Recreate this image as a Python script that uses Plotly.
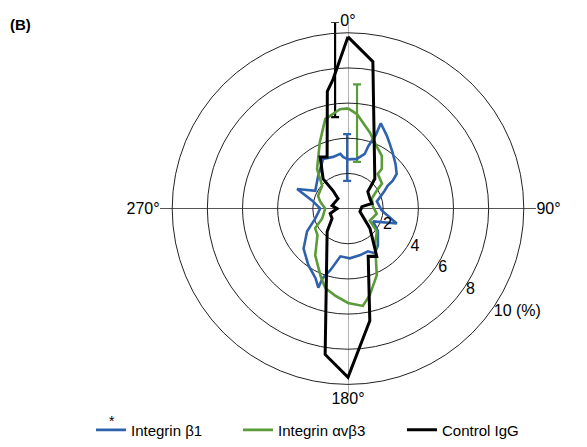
import plotly.graph_objects as go

# ---------------- data ----------------
# Integrin beta1 (blue): angle (deg, clockwise from 0 at top), value (%)
b1_theta = [0, 10, 17, 18, 20.7, 21, 28, 33, 38, 47, 54.5, 58, 60, 64, 76, 93, 107, 117,
            127, 141, 149, 155, 166, 178, 189, 196, 200, 200.6, 205, 215, 228, 241, 253,
            270, 282.5, 291, 298.6, 317.7, 333.4, 344, 352, 354.5, 360]
b1_r = [2.8, 2.87, 3.25, 3.73, 4.47, 5.2, 4.7, 4.37, 4.1, 3.7, 3.4, 3.0, 2.6, 2.32, 1.69, 1.92, 2.9, 1.6,
        2.13, 2.7, 2.96, 2.68, 2.74, 2.83, 2.75, 3.65, 4.2, 4.8, 4.37, 3.93, 3.4, 2.66, 1.95,
        1.58, 2.08, 3.1, 2.12, 2.52, 3.16, 3.06, 3.14, 2.95, 2.8]

# Integrin alpha-v beta3 (green)
avb3_theta = [0, 5.4, 16, 24.7, 32.7, 40.4, 40.6, 53.7, 58, 67, 85, 100, 119, 128, 142, 156.6,
              165.8, 171.3, 180, 188.4, 196, 202, 215, 229, 239, 249, 270, 284, 293, 311.5,
              322, 337, 345.7, 355.4, 360]
avb3_r = [5.7, 5.4, 4.5, 3.9, 3.56, 2.97, 2.6, 2.4, 1.93, 1.47, 1.42, 1.66, 1.42, 2.09, 2.5, 4.12,
          5.07, 5.6, 5.37, 5.0, 4.7, 4.15, 3.25, 2.3, 2.18, 1.57, 1.3, 1.63, 1.85, 1.96,
          2.86, 4.1, 5.25, 5.67, 5.7]

# Control IgG (black)
igg_theta = [0, 9.6, 42, 49.6, 65.6, 78, 82, 104, 132, 146, 149, 157, 169, 180, 188.9, 222.4,
             238, 254.5, 270, 280.6, 315, 320, 320, 331.7, 338, 350, 353.4, 360]
igg_r = [9.77, 8.48, 2.28, 1.48, 1.37, 1.39, 0.8, 0.7, 1.68, 2.73, 3.17, 2.94, 6.5, 9.6, 8.4, 1.76,
         1.07, 1.05, 0.62, 0.92, 0.8, 1.32, 2.2, 3.34, 3.17, 6.77, 7.4, 9.77]

# error bars at 0 deg: lateral offset (in % units), mean, +/- error
err_names = ["Integrin β1", "Integrin αvβ3", "Control IgG"]
err_offset = [-0.05, 0.51, -0.73]
err_mean = [2.91, 4.86, 7.91]
err_size = [1.33, 2.2, 2.71]

radial_ticks = [2, 4, 6, 8, 10]
radial_labels = ["2", "4", "6", "8", "10 (%)"]
angle_ticks = [0, 90, 180, 270]
NB = "\u00a0"
angle_labels = ["0°", NB * 2 + "90°", "180°", "270°" + NB * 2]

colors = {"Integrin β1": "#2f62ad", "Integrin αvβ3": "#5b9b3a", "Control IgG": "#000000"}
widths = {"Integrin β1": 2.6, "Integrin αvβ3": 2.6, "Control IgG": 3}

# ---------------- geometry ----------------
W, H = 587, 447
cx, cy, R = 348, 210, 177
ext = 10.6  # crosshair extension beyond outer circle, px
RMAX = 10
ext_units = ext / (R / RMAX)
RAD_ANGLE = -38

FONT = "Liberation Sans, Arial, sans-serif"

fig = go.Figure()

series = [("Integrin β1", b1_theta, b1_r, "legend"),
          ("Integrin αvβ3", avb3_theta, avb3_r, "legend2"),
          ("Control IgG", igg_theta, igg_r, "legend3")]
for name, th, r, lg in series:
    fig.add_trace(go.Scatterpolar(
        r=r, theta=th, mode="lines", name=name,
        line=dict(color=colors[name], width=widths[name]),
        legend=lg, showlegend=True, hoverinfo="skip"))

# error bars via a cartesian overlay aligned with the polar area
for i, name in enumerate(err_names):
    fig.add_trace(go.Scatter(
        x=[err_offset[i]], y=[err_mean[i]], mode="markers",
        marker=dict(size=1, color="rgba(0,0,0,0)"),
        error_y=dict(type="data", array=[err_size[i]], symmetric=True,
                     color=colors[name], thickness=2.2, width=4),
        showlegend=False, hoverinfo="skip", xaxis="x", yaxis="y"))

xd = [(cx - R - ext) / W, (cx + R + ext) / W]
yd = [(H - (cy + R) - ext) / H, (H - (cy - R) + ext) / H]
rng = [-(RMAX + ext_units), RMAX + ext_units]

fig.update_layout(
    width=W, height=H,
    margin=dict(l=0, r=0, t=0, b=0),
    paper_bgcolor="white", plot_bgcolor="white",
    font=dict(family=FONT, size=15, color="black"),
    xaxis=dict(domain=xd, range=rng, showgrid=False, showticklabels=False, ticks="",
               zeroline=True, zerolinecolor="#b4b4b4", zerolinewidth=1, fixedrange=True),
    yaxis=dict(domain=yd, range=rng, showgrid=False, showticklabels=False, ticks="",
               zeroline=True, zerolinecolor="#555555", zerolinewidth=1, fixedrange=True),
    polar=dict(
        domain=dict(x=[(cx - R) / W, (cx + R) / W], y=[(H - (cy + R)) / H, (H - (cy - R)) / H]),
        bgcolor="rgba(0,0,0,0)",
        radialaxis=dict(range=[0, RMAX], tickvals=radial_ticks, ticktext=radial_labels,
                        showline=False, ticks="", angle=RAD_ANGLE, tickangle=RAD_ANGLE,
                        side="counterclockwise",
                        gridcolor="#222222", gridwidth=1,
                        tickfont=dict(size=16, family=FONT, color="black")),
        angularaxis=dict(rotation=90, direction="clockwise", tickvals=angle_ticks,
                         ticktext=angle_labels, showgrid=False, ticks="",
                         showline=True, linecolor="#222222", linewidth=1,
                         tickfont=dict(size=16, family=FONT, color="black")),
    ),
    showlegend=True,
)

leg_common = dict(yanchor="middle", xanchor="left", y=1 - 433 / H,
                  bgcolor="rgba(0,0,0,0)", borderwidth=0,
                  font=dict(size=15, family=FONT, color="black"))
fig.update_layout(
    legend=dict(x=(96 - 5) / W, **leg_common),
    legend2=dict(x=(243 - 5) / W, **leg_common),
    legend3=dict(x=(407 - 5) / W, **leg_common),
)

fig.add_annotation(text="<b>(B)</b>", x=8 / W, y=1 - 25 / H, xref="paper", yref="paper",
                   xanchor="left", yanchor="middle", showarrow=False,
                   font=dict(size=15, family=FONT, color="black"))
fig.add_annotation(text="*", x=112 / W, y=1 - 424 / H, xref="paper", yref="paper",
                   xanchor="center", yanchor="middle", showarrow=False,
                   font=dict(size=14, family=FONT, color="black"))

fig.write_html("out.html")
